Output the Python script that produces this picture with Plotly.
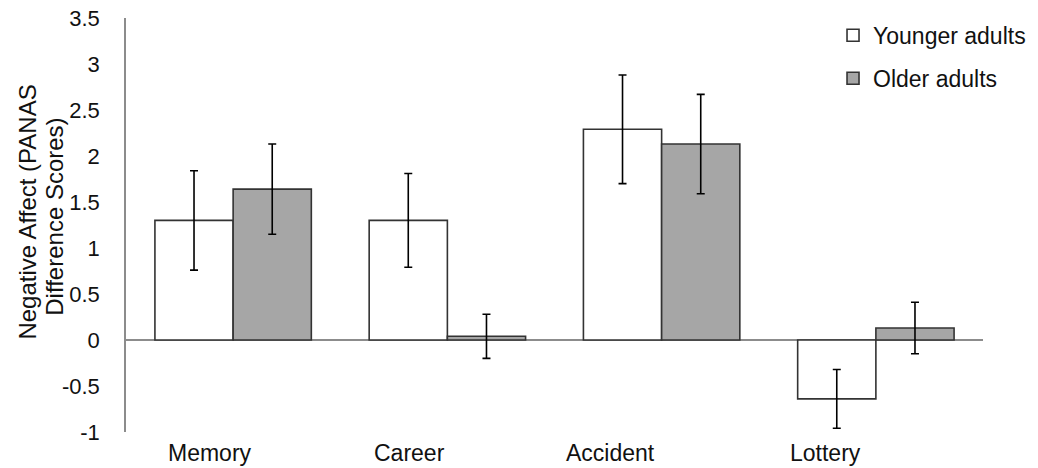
import plotly.graph_objects as go

categories = ["Memory", "Career", "Accident", "Lottery"]
younger = [1.30, 1.30, 2.29, -0.64]
younger_err = [0.54, 0.51, 0.59, 0.32]
older = [1.64, 0.04, 2.13, 0.13]
older_err = [0.49, 0.24, 0.54, 0.28]
y_ticks = [-1, -0.5, 0, 0.5, 1, 1.5, 2, 2.5, 3, 3.5]
y_title_lines = ["Negative Affect (PANAS", "Difference Scores)"]

FONT = "Liberation Sans, Arial, sans-serif"
TXT = "#111111"

fig = go.Figure()
fig.add_trace(go.Bar(
    x=categories, y=younger, name="Younger adults", legendgroup="y",
    marker=dict(color="white", line=dict(color="#333333", width=1.6)),
    error_y=dict(type="data", array=younger_err, color="black", thickness=1.6, width=4),
))
fig.add_trace(go.Bar(
    x=categories, y=older, name="Older adults", legendgroup="o",
    marker=dict(color="#a6a6a6", line=dict(color="#333333", width=1.6)),
    error_y=dict(type="data", array=older_err, color="black", thickness=1.6, width=4),
))

label_shift = [-23, -38, -51, -50]
annotations = []
for c, s in zip(categories, label_shift):
    annotations.append(dict(
        x=c, y=0, xref="x", yref="paper", yshift=-21, xshift=s,
        text=c, showarrow=False, xanchor="center", yanchor="middle",
        font=dict(family=FONT, size=23, color=TXT),
    ))
title_shift = [-98, -71]
title_y = [0.53, 0.52]
for line, s, yy in zip(y_title_lines, title_shift, title_y):
    annotations.append(dict(
        x=0, y=yy, xref="paper", yref="paper", xshift=s,
        text=line, showarrow=False, textangle=-90,
        xanchor="center", yanchor="middle",
        font=dict(family=FONT, size=24, color=TXT),
    ))

fig.update_layout(
    width=1038, height=468,
    margin=dict(l=126, r=55, t=18, b=36, autoexpand=False),
    paper_bgcolor="white", plot_bgcolor="white",
    barmode="group", bargap=0.27, bargroupgap=0,
    font=dict(family=FONT, size=22, color=TXT),
    showlegend=True,
    legend=dict(
        x=0.825, y=1.01, xanchor="left", yanchor="top",
        font=dict(family=FONT, size=23, color=TXT),
        traceorder="grouped", tracegroupgap=10,
        bgcolor="rgba(0,0,0,0)", itemclick=False,
    ),
    annotations=annotations,
)
fig.update_xaxes(
    showticklabels=False, showline=False, showgrid=False, zeroline=False, ticks="",
)
fig.update_yaxes(
    range=[-1, 3.5], tickvals=y_ticks, ticktext=[f"{v:g}" for v in y_ticks],
    showgrid=False, showline=True, linecolor="#8c8c8c", linewidth=1.6,
    zeroline=True, zerolinecolor="#8c8c8c", zerolinewidth=2,
    ticks="", ticklabelstandoff=20,
    tickfont=dict(family=FONT, size=22, color=TXT),
)

fig.write_html("out.html")
